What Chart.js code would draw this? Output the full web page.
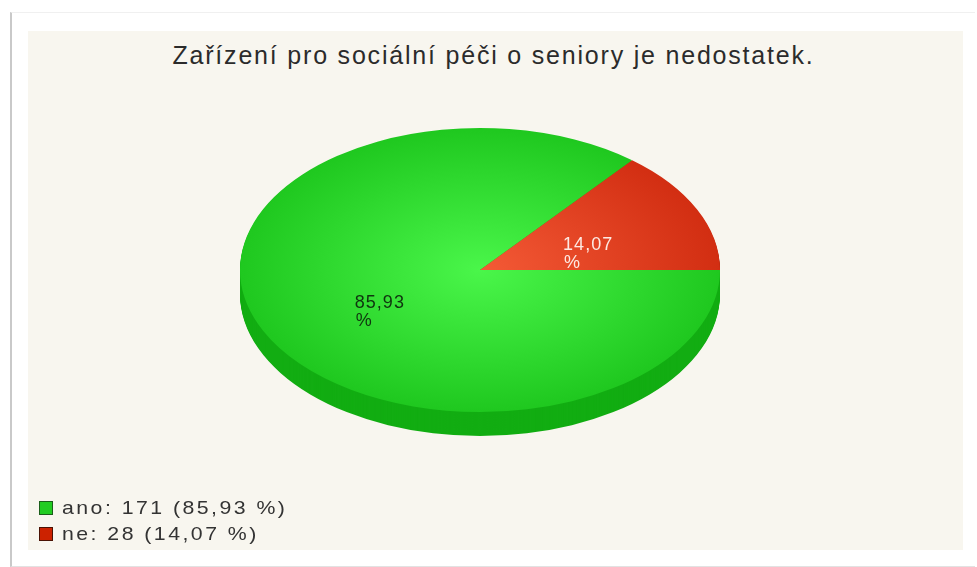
<!DOCTYPE html>
<html lang="cs">
<head>
    <meta charset="UTF-8" />
    <title>Zařízení pro sociální péči o seniory</title>
    <script src="https://cdn.jsdelivr.net/npm/chart.js@4.4.0/dist/chart.umd.min.js"></script>
    <style>
        html, body { margin: 0; padding: 0; background: #fff; }
        body { width: 977px; height: 567px; position: relative; overflow: hidden;
               font-family: "Liberation Sans", Arial, sans-serif; }
        .frame { position: absolute; left: 10px; top: 12px; width: 963px; height: 553px;
                 background: #fff; border-left: 2px solid #c9c9c9; border-top: 1px solid #f0f0f0;
                 border-bottom: 1px solid #e2e2e2; }
        .panel { position: absolute; left: 28px; top: 31px; width: 935px; height: 519px; background: #f8f6ef; }
        .chart-title { position: absolute; left: 0; top: 9px; width: 931px; margin: 0; text-align: center;
                       font-size: 25px; font-weight: normal; line-height: 30px; color: #2b2b2b; letter-spacing: 1.8px; }
        .chart-box { position: absolute; left: 0; top: 0; width: 904px; height: 478px; }
        .legend { position: absolute; left: 11px; top: 464px; margin: 0; padding: 0; list-style: none; }
        .legend li { height: 26px; line-height: 26px; white-space: nowrap; }
        .legend .box { display: inline-block; width: 12px; height: 12px; margin-right: 9px; vertical-align: -1px; border: 1px solid; }
        .legend .txt { display: inline-block; font-size: 19px; color: #333; letter-spacing: 2.2px;
                       transform: scaleX(1.12); transform-origin: left center; }
    </style>
</head>
<body>
    <div class="frame"></div>
    <div class="panel">
        <h2 class="chart-title">Zařízení pro sociální péči o seniory je nedostatek.</h2>
        <div class="chart-box"><canvas id="seniorChart" width="904" height="478"></canvas></div>
        <ul class="legend" id="legend"></ul>
    </div>

    <script>
        const odpovedi = ['ano', 'ne'];
        const pocty = [171, 28];

        // barvy: vrchní plocha (střed -> okraj), boční stěna, čtvereček legendy
        const barvyStred = ['#4af64a', '#f45a36'];
        const barvyOkraj = ['#1fc81f', '#d22e12'];
        const barvyBok = ['#12ad12', '#9e1e06'];
        const barvyLegenda = ['#22cc22', '#cc2200'];
        const ramecekLegenda = ['#1b5e1b', '#4a1204'];
        const barvyPopisku = ['#0f350f', '#fde9e2'];

        const polomer = 240;
        const zplosteni = 142 / 240;
        const hloubka = 24;

        const celkem = pocty.reduce((a, b) => a + b, 0);
        const procenta = pocty.map(v => (v / celkem * 100).toFixed(2).replace('.', ','));

        // legenda
        const legenda = document.getElementById('legend');
        odpovedi.forEach((o, i) => {
            const li = document.createElement('li');
            const box = document.createElement('span');
            box.className = 'box';
            box.style.background = barvyLegenda[i];
            box.style.borderColor = ramecekLegenda[i];
            const txt = document.createElement('span');
            txt.className = 'txt';
            txt.textContent = o + ': ' + pocty[i] + ' (' + procenta[i] + ' %)';
            li.appendChild(box);
            li.appendChild(txt);
            legenda.appendChild(li);
        });

        // 3D vzhled: boční stěna + zploštění koláče do elipsy
        const kolac3d = {
            id: 'kolac3d',
            beforeDatasetsDraw(chart) {
                const ctx = chart.ctx;
                const arcs = chart.getDatasetMeta(0).data;
                ctx.save();
                // odzadu, aby přední (zelená) stěna překryla hranu červené výseče
                arcs.slice().reverse().forEach((arc) => {
                    const i = arcs.indexOf(arc);
                    const p = arc.getProps(['x', 'y', 'startAngle', 'endAngle', 'outerRadius'], true);
                    ctx.fillStyle = barvyBok[i];
                    for (let d = hloubka; d > 0; d--) {
                        ctx.beginPath();
                        ctx.moveTo(p.x, p.y + d);
                        ctx.ellipse(p.x, p.y + d, p.outerRadius, p.outerRadius * zplosteni, 0, p.startAngle, p.endAngle);
                        ctx.closePath();
                        ctx.fill();
                    }
                });
                ctx.restore();

                const { x, y } = arcs[0];
                ctx.save();
                ctx.translate(x, y);
                ctx.scale(1, zplosteni);
                ctx.translate(-x, -y);
            },
            afterDatasetsDraw(chart) {
                const ctx = chart.ctx;
                ctx.restore();

                // popisky s procenty uvnitř výsečí
                ctx.save();
                ctx.font = '18px "Liberation Sans", Arial, sans-serif';
                if ('letterSpacing' in ctx) ctx.letterSpacing = '1px';
                ctx.textAlign = 'left';
                ctx.textBaseline = 'middle';
                chart.getDatasetMeta(0).data.forEach((arc, i) => {
                    const p = arc.getProps(['x', 'y', 'startAngle', 'endAngle', 'outerRadius'], true);
                    const mid = (p.startAngle + p.endAngle) / 2;
                    const r = p.outerRadius * 0.48;
                    const px = p.x + Math.cos(mid) * r;
                    const py = p.y + Math.sin(mid) * r * zplosteni;
                    const w = ctx.measureText(procenta[i]).width;
                    ctx.fillStyle = barvyPopisku[i];
                    ctx.fillText(procenta[i], px - w / 2 + 4, py + 4);
                    ctx.fillText('%', px - w / 2 + 5, py + 22);
                });
                ctx.restore();
            }
        };

        function vypln(context) {
            const i = context.dataIndex;
            const area = context.chart.chartArea;
            if (!area) return barvyLegenda[i];
            const cx = (area.left + area.right) / 2;
            const cy = (area.top + area.bottom) / 2;
            const g = context.chart.ctx.createRadialGradient(cx, cy, 0, cx, cy, polomer);
            g.addColorStop(0, barvyStred[i]);
            g.addColorStop(1, barvyOkraj[i]);
            return g;
        }

        new Chart(document.getElementById('seniorChart'), {
            type: 'pie',
            data: {
                labels: odpovedi,
                datasets: [{
                    data: pocty,
                    backgroundColor: vypln,
                    borderWidth: 0,
                    radius: polomer,
                    clip: false
                }]
            },
            options: {
                responsive: false,
                animation: false,
                events: [],
                rotation: 90,
                layout: { padding: 0 },
                plugins: {
                    legend: { display: false },
                    title: { display: false },
                    tooltip: { enabled: false }
                }
            },
            plugins: [kolac3d]
        });
    </script>
</body>
</html>
